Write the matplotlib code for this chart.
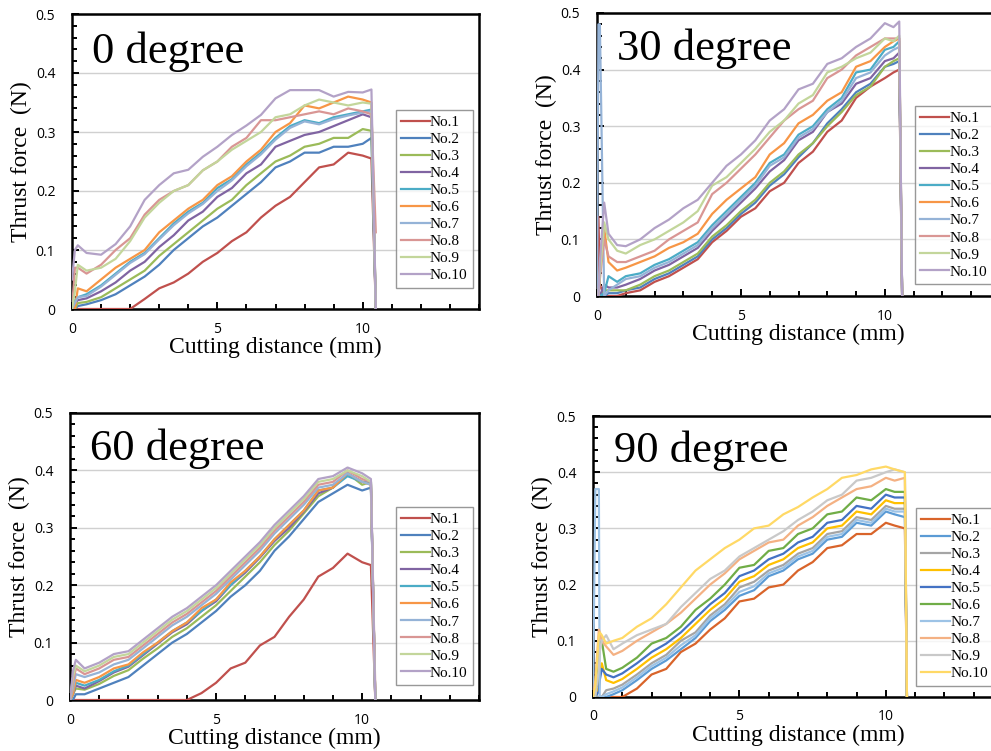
import numpy as np
import matplotlib
matplotlib.use("Agg")
import matplotlib.pyplot as plt
from matplotlib.ticker import MultipleLocator

# ---- data ----
labels = ["No.%d" % i for i in range(1, 11)]

# 0 degree
x0 = [0, 0.1, 0.2, 0.5, 1, 1.5, 2, 2.5, 3, 3.5, 4, 4.5, 5, 5.5, 6, 6.5, 7, 7.5, 8, 8.5, 9, 9.5, 10, 10.3, 10.45]
d0_1 = [0, 0, 0, 0, 0, 0, 0, 0.017, 0.035, 0.045, 0.06, 0.08, 0.095, 0.115, 0.13, 0.155, 0.175, 0.19, 0.215, 0.24, 0.245, 0.265, 0.26, 0.255, 0]
d0_2 = [0, 0, 0.005, 0.008, 0.015, 0.025, 0.04, 0.055, 0.075, 0.1, 0.12, 0.14, 0.155, 0.175, 0.195, 0.215, 0.24, 0.25, 0.265, 0.265, 0.275, 0.275, 0.28, 0.29, 0]
d0_3 = [0, 0, 0.01, 0.012, 0.02, 0.035, 0.05, 0.065, 0.09, 0.11, 0.13, 0.15, 0.17, 0.185, 0.21, 0.23, 0.25, 0.26, 0.275, 0.28, 0.29, 0.29, 0.305, 0.302, 0]
d0_4 = [0, 0.01, 0.015, 0.018, 0.03, 0.045, 0.065, 0.08, 0.105, 0.125, 0.15, 0.165, 0.19, 0.205, 0.23, 0.245, 0.275, 0.285, 0.295, 0.3, 0.31, 0.32, 0.33, 0.325, 0]
d0_5 = [0, 0.015, 0.02, 0.025, 0.04, 0.06, 0.08, 0.095, 0.12, 0.145, 0.165, 0.18, 0.205, 0.22, 0.245, 0.265, 0.29, 0.31, 0.32, 0.315, 0.325, 0.33, 0.335, 0.338, 0]
d0_6 = [0, 0, 0.035, 0.03, 0.05, 0.07, 0.085, 0.1, 0.13, 0.15, 0.17, 0.185, 0.21, 0.225, 0.25, 0.27, 0.3, 0.315, 0.345, 0.34, 0.35, 0.36, 0.355, 0.35, 0]
d0_7 = [0, 0.01, 0.02, 0.022, 0.038, 0.058, 0.078, 0.093, 0.118, 0.142, 0.162, 0.178, 0.2, 0.218, 0.242, 0.262, 0.287, 0.307, 0.318, 0.313, 0.322, 0.328, 0.333, 0.335, 0]
d0_8 = [0, 0.07, 0.07, 0.06, 0.075, 0.1, 0.12, 0.16, 0.185, 0.2, 0.21, 0.235, 0.25, 0.275, 0.29, 0.32, 0.32, 0.325, 0.33, 0.335, 0.33, 0.34, 0.335, 0.33, 0.13]
d0_9 = [0, 0.03, 0.075, 0.065, 0.07, 0.085, 0.115, 0.155, 0.18, 0.2, 0.21, 0.235, 0.25, 0.27, 0.285, 0.3, 0.325, 0.33, 0.345, 0.355, 0.35, 0.345, 0.35, 0.348, 0]
d0_10 = [0.05, 0.1, 0.108, 0.095, 0.092, 0.11, 0.14, 0.185, 0.21, 0.23, 0.236, 0.258, 0.275, 0.295, 0.311, 0.329, 0.357, 0.371, 0.371, 0.371, 0.36, 0.368, 0.367, 0.372, 0]

# 30 degree
x30 = [0, 0.05, 0.1, 0.25, 0.4, 0.7, 1, 1.5, 2, 2.5, 3, 3.5, 4, 4.5, 5, 5.5, 6, 6.5, 7, 7.5, 8, 8.5, 9, 9.5, 10, 10.3, 10.5, 10.6]
d30_1 = [0, 0.14, 0.02, 0, 0, 0, 0.005, 0.01, 0.025, 0.035, 0.05, 0.065, 0.095, 0.115, 0.14, 0.155, 0.185, 0.2, 0.235, 0.255, 0.29, 0.31, 0.35, 0.37, 0.385, 0.395, 0.4, 0]
d30_2 = [0, 0, 0, 0, 0.005, 0.005, 0.01, 0.015, 0.03, 0.04, 0.055, 0.07, 0.1, 0.12, 0.145, 0.165, 0.195, 0.215, 0.245, 0.27, 0.305, 0.33, 0.36, 0.375, 0.405, 0.41, 0.415, 0]
d30_3 = [0, 0, 0, 0.01, 0.01, 0.01, 0.01, 0.02, 0.035, 0.045, 0.06, 0.075, 0.105, 0.125, 0.15, 0.17, 0.2, 0.22, 0.25, 0.27, 0.3, 0.325, 0.355, 0.37, 0.405, 0.415, 0.42, 0]
d30_4 = [0, 0, 0, 0.02, 0.015, 0.015, 0.02, 0.03, 0.045, 0.055, 0.07, 0.085, 0.115, 0.14, 0.165, 0.19, 0.22, 0.24, 0.275, 0.29, 0.325, 0.34, 0.375, 0.385, 0.415, 0.42, 0.43, 0]
d30_5 = [0, 0, 0, 0.005, 0.035, 0.025, 0.035, 0.04, 0.055, 0.065, 0.08, 0.095, 0.125, 0.15, 0.175, 0.2, 0.235, 0.25, 0.285, 0.3, 0.33, 0.35, 0.395, 0.4, 0.435, 0.44, 0.45, 0]
d30_6 = [0, 0, 0.05, 0.12, 0.06, 0.045, 0.05, 0.06, 0.07, 0.085, 0.095, 0.11, 0.145, 0.17, 0.19, 0.21, 0.25, 0.27, 0.305, 0.32, 0.345, 0.36, 0.405, 0.415, 0.44, 0.45, 0.455, 0]
d30_7 = [0, 0.48, 0.48, 0, 0.01, 0.02, 0.03, 0.035, 0.05, 0.06, 0.075, 0.09, 0.12, 0.145, 0.17, 0.195, 0.23, 0.245, 0.28, 0.295, 0.325, 0.345, 0.385, 0.395, 0.425, 0.435, 0.44, 0]
d30_8 = [0, 0, 0.03, 0.1, 0.07, 0.06, 0.06, 0.07, 0.08, 0.1, 0.115, 0.13, 0.18, 0.2, 0.225, 0.25, 0.28, 0.31, 0.33, 0.345, 0.385, 0.4, 0.425, 0.44, 0.455, 0.455, 0.455, 0]
d30_9 = [0, 0, 0.04, 0.13, 0.1, 0.08, 0.075, 0.09, 0.1, 0.115, 0.13, 0.15, 0.195, 0.21, 0.235, 0.26, 0.29, 0.31, 0.34, 0.355, 0.395, 0.405, 0.42, 0.43, 0.455, 0.45, 0.46, 0]
d30_10 = [0, 0, 0.06, 0.165, 0.11, 0.09, 0.088, 0.1, 0.12, 0.135, 0.155, 0.17, 0.2, 0.23, 0.25, 0.275, 0.31, 0.33, 0.365, 0.375, 0.41, 0.42, 0.44, 0.455, 0.482, 0.475, 0.485, 0]

# 60 degree
x60 = [0, 0.1, 0.2, 0.5, 1, 1.5, 2, 2.5, 3, 3.5, 4, 4.5, 5, 5.5, 6, 6.5, 7, 7.5, 8, 8.5, 9, 9.5, 10, 10.3, 10.45]
d60_1 = [0, 0, 0, 0, 0, 0, 0, 0, 0, 0, 0, 0.012, 0.03, 0.055, 0.065, 0.095, 0.11, 0.145, 0.175, 0.215, 0.23, 0.255, 0.24, 0.235, 0]
d60_2 = [0, 0, 0.01, 0.01, 0.02, 0.03, 0.04, 0.06, 0.08, 0.1, 0.115, 0.135, 0.155, 0.18, 0.2, 0.225, 0.26, 0.285, 0.315, 0.345, 0.36, 0.375, 0.365, 0.37, 0]
d60_3 = [0, 0.01, 0.02, 0.018, 0.028, 0.042, 0.052, 0.072, 0.09, 0.11, 0.125, 0.145, 0.165, 0.19, 0.215, 0.24, 0.27, 0.295, 0.325, 0.355, 0.37, 0.395, 0.375, 0.38, 0]
d60_4 = [0, 0.01, 0.025, 0.02, 0.033, 0.048, 0.058, 0.078, 0.098, 0.118, 0.132, 0.155, 0.172, 0.2, 0.222, 0.248, 0.277, 0.3, 0.328, 0.36, 0.37, 0.395, 0.38, 0.38, 0]
d60_5 = [0, 0.01, 0.03, 0.025, 0.035, 0.05, 0.06, 0.08, 0.1, 0.12, 0.135, 0.155, 0.175, 0.2, 0.225, 0.25, 0.28, 0.305, 0.33, 0.365, 0.37, 0.39, 0.38, 0.38, 0]
d60_6 = [0, 0.01, 0.035, 0.03, 0.04, 0.055, 0.062, 0.083, 0.1, 0.12, 0.135, 0.16, 0.175, 0.205, 0.225, 0.25, 0.28, 0.305, 0.33, 0.365, 0.37, 0.395, 0.38, 0.375, 0]
d60_7 = [0, 0.02, 0.045, 0.04, 0.048, 0.062, 0.07, 0.09, 0.11, 0.13, 0.145, 0.165, 0.185, 0.21, 0.235, 0.26, 0.29, 0.315, 0.34, 0.37, 0.375, 0.395, 0.38, 0.375, 0]
d60_8 = [0, 0.03, 0.055, 0.045, 0.055, 0.07, 0.075, 0.095, 0.115, 0.135, 0.15, 0.17, 0.19, 0.215, 0.24, 0.265, 0.295, 0.32, 0.345, 0.375, 0.38, 0.4, 0.385, 0.38, 0.02]
d60_9 = [0, 0.04, 0.06, 0.05, 0.06, 0.075, 0.08, 0.1, 0.12, 0.14, 0.155, 0.175, 0.195, 0.22, 0.245, 0.27, 0.3, 0.325, 0.35, 0.38, 0.385, 0.4, 0.39, 0.38, 0]
d60_10 = [0, 0.05, 0.07, 0.055, 0.065, 0.08, 0.085, 0.105, 0.125, 0.145, 0.16, 0.18, 0.2, 0.225, 0.25, 0.275, 0.305, 0.33, 0.355, 0.385, 0.39, 0.405, 0.395, 0.385, 0]

# 90 degree
x90 = [0, 0.08, 0.2, 0.23, 0.3, 0.45, 0.7, 1, 1.5, 2, 2.5, 3, 3.5, 4, 4.5, 5, 5.5, 6, 6.5, 7, 7.5, 8, 8.5, 9, 9.5, 10, 10.3, 10.65, 10.72]
d90_1 = [0, 0, 0, 0, 0, 0, 0, 0, 0.015, 0.04, 0.05, 0.08, 0.095, 0.12, 0.14, 0.17, 0.175, 0.195, 0.2, 0.225, 0.24, 0.265, 0.27, 0.29, 0.29, 0.31, 0.305, 0.3, 0]
d90_2 = [0, 0, 0, 0, 0, 0, 0.005, 0.012, 0.03, 0.05, 0.065, 0.085, 0.105, 0.135, 0.155, 0.18, 0.19, 0.215, 0.225, 0.245, 0.255, 0.28, 0.285, 0.31, 0.305, 0.33, 0.325, 0.32, 0]
d90_3 = [0, 0, 0, 0, 0, 0.012, 0.015, 0.022, 0.04, 0.06, 0.075, 0.1, 0.115, 0.145, 0.165, 0.195, 0.205, 0.225, 0.235, 0.255, 0.265, 0.29, 0.295, 0.32, 0.315, 0.34, 0.335, 0.335, 0]
d90_4 = [0, 0, 0.02, 0.04, 0.06, 0.03, 0.025, 0.032, 0.05, 0.07, 0.085, 0.105, 0.13, 0.155, 0.175, 0.205, 0.215, 0.235, 0.245, 0.265, 0.275, 0.3, 0.305, 0.33, 0.325, 0.35, 0.345, 0.345, 0]
d90_5 = [0, 0, 0.01, 0.03, 0.05, 0.04, 0.035, 0.042, 0.06, 0.08, 0.095, 0.115, 0.14, 0.165, 0.185, 0.215, 0.225, 0.245, 0.255, 0.275, 0.285, 0.31, 0.315, 0.34, 0.335, 0.36, 0.355, 0.355, 0]
d90_6 = [0, 0, 0.06, 0.09, 0.1, 0.05, 0.045, 0.052, 0.07, 0.095, 0.105, 0.125, 0.155, 0.175, 0.2, 0.23, 0.235, 0.26, 0.265, 0.29, 0.3, 0.325, 0.33, 0.355, 0.35, 0.37, 0.365, 0.365, 0]
d90_7 = [0, 0.37, 0.37, 0, 0, 0.005, 0.01, 0.017, 0.035, 0.055, 0.07, 0.092, 0.11, 0.14, 0.16, 0.187, 0.197, 0.22, 0.23, 0.25, 0.26, 0.285, 0.29, 0.315, 0.31, 0.335, 0.33, 0.33, 0]
d90_8 = [0, 0.03, 0.12, 0.115, 0.1, 0.09, 0.075, 0.082, 0.1, 0.115, 0.13, 0.15, 0.175, 0.2, 0.22, 0.245, 0.26, 0.275, 0.28, 0.305, 0.32, 0.34, 0.355, 0.37, 0.375, 0.39, 0.385, 0.39, 0]
d90_9 = [0, 0, 0.05, 0.08, 0.1, 0.11, 0.085, 0.095, 0.11, 0.12, 0.13, 0.16, 0.185, 0.21, 0.225, 0.25, 0.265, 0.28, 0.295, 0.315, 0.33, 0.35, 0.36, 0.385, 0.39, 0.4, 0.405, 0.4, 0]
d90_10 = [0, 0.02, 0.11, 0.115, 0.11, 0.095, 0.1, 0.105, 0.125, 0.14, 0.165, 0.195, 0.225, 0.245, 0.265, 0.28, 0.3, 0.305, 0.325, 0.338, 0.355, 0.37, 0.39, 0.395, 0.405, 0.41, 0.405, 0.4, 0]

colors_2010 = ["#C0504D", "#4F81BD", "#9BBB59", "#8064A2", "#4BACC6",
               "#F79646", "#95B3D7", "#D99694", "#C3D69B", "#B3A2C7"]
colors_2013 = ["#D9642A", "#5B9BD5", "#A5A5A5", "#FFC000", "#4472C4",
               "#70AD47", "#9DC3E6", "#F4B183", "#C9C9C9", "#FFD966"]

panels = [
    ("0 degree", x0, [d0_1, d0_2, d0_3, d0_4, d0_5, d0_6, d0_7, d0_8, d0_9, d0_10], colors_2010,
     [72/991, 1-309/751, 407/991, 295/751], "right", (0.985, 0.675)),
    ("30 degree", x30, [d30_1, d30_2, d30_3, d30_4, d30_5, d30_6, d30_7, d30_8, d30_9, d30_10], colors_2010,
     [597/991, 1-296/751, 403/991, 283/751], "left", (0.789, 0.671)),
    ("60 degree", x60, [d60_1, d60_2, d60_3, d60_4, d60_5, d60_6, d60_7, d60_8, d60_9, d60_10], colors_2010,
     [70/991, 1-700/751, 409/991, 287/751], "right", (0.985, 0.672)),
    ("90 degree", x90, [d90_1, d90_2, d90_3, d90_4, d90_5, d90_6, d90_7, d90_8, d90_9, d90_10], colors_2013,
     [593/991, 1-697/751, 410/991, 281/751], "left", (0.788, 0.673)),
]

serif = "Liberation Serif"

fig = plt.figure(figsize=(9.91, 7.51), dpi=100)

for title, xs, series, cols, pos, side, anchor in panels:
    ax = fig.add_axes(pos)
    for i, ys in enumerate(series):
        ax.plot(xs, ys, color=cols[i], lw=1.6, label=labels[i], zorder=3)
    ax.set_xlim(0, 14)
    ax.set_ylim(0, 0.5)
    ax.xaxis.set_major_locator(MultipleLocator(5))
    ax.xaxis.set_minor_locator(MultipleLocator(1))
    ax.yaxis.set_minor_locator(MultipleLocator(0.02))
    ax.set_yticks([0, 0.1, 0.2, 0.3, 0.4, 0.5])
    ax.set_yticklabels(["0", "0.1", "0.2", "0.3", "0.4", "0.5"])
    ax.grid(axis="y", color="#d0d0d0", lw=1.0, zorder=0)
    for s in ax.spines.values():
        s.set_linewidth(1.8)
        s.set_color("black")
    ax.tick_params(which="both", direction="in", width=1.4, labelsize=10, colors="black")
    ax.tick_params(which="major", length=5)
    ax.tick_params(which="minor", length=3.5)
    ax.tick_params(axis="x", pad=9)
    ax.tick_params(axis="y", pad=12)
    for lab in ax.get_xticklabels() + ax.get_yticklabels():
        lab.set_fontfamily("Open Sans")
    ax.set_xlabel("Cutting distance (mm)", fontfamily=serif, fontsize=17, labelpad=0)
    ax.set_ylabel("Thrust force  (N)", fontfamily=serif, fontsize=17, labelpad=3)
    ax.text(0.05, 0.835, title, transform=ax.transAxes, fontfamily=serif, fontsize=32,
            va="baseline", ha="left", zorder=5)
    leg = ax.legend(loc="upper " + side, bbox_to_anchor=anchor, frameon=True, fancybox=False,
                    prop={"family": serif, "size": 11}, handlelength=1.9, handletextpad=0.0,
                    labelspacing=0.22, borderpad=0.35, borderaxespad=0)
    leg.get_frame().set_edgecolor("#7f7f7f")
    leg.get_frame().set_linewidth(1.0)
    leg.set_zorder(6)

fig.savefig("out.png", dpi=100)
